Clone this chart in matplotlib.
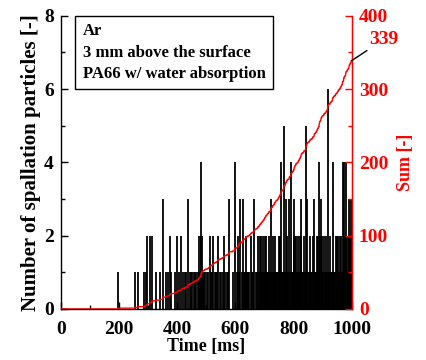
import numpy as np
import matplotlib
matplotlib.use('Agg')
import matplotlib.pyplot as plt

# counts per 1 ms frame, one string per 100 ms, 10 frames per group
blocks = [
    "0000000000 0000000000 0000000000 0000000000 0000000000 0000000000 0000000000 0000000000 0000000000 0000000000",
    "0000000000 0000000000 0000000000 0000000000 0000000000 0000000000 0000000000 0000000000 0000000000 0000000100",
    "0000000000 0000000000 0000000000 0000000000 0000000000 0000100000 0000010000 0000000000 0000000100 0001000200",
    "0000002000 0002000000 0000000010 0000000000 1000000000 0300000000 1000000010 0000200000 1000000000 0010000000",
    "2000010000 0000200010 0000010000 1000000300 0010000100 0010001000 1000010000 1000201000 2040020010 0010001000",
    "0001000100 0200010001 0000200010 0001000100 2000001000 0100001000 2000010000 0100010003 0000000000 1000000400",
    "0000010020 0100300000 0100030001 0001002000 1000100010 0020001000 1000030001 0001000200 1002001002 0010020010",
    "2010200101 1000201000 1030101020 0101020101 1000101020 1020100410 0010105000 1030102010 1000030100 0400101010",
    "2030201020 1000102010 2010203010 1000102000 1050103010 0100020100 1000102000 1300101010 2020102041 2010302010",
    "1000201000 1020100601 1000102000 1010401010 1000201000 2010200010 2010201040 1040201004 2000201010 2300201030",
]
counts = np.array([int(c) for b in blocks for c in b.replace(" ", "")])
time_ms = np.arange(len(counts))
cum = np.cumsum(counts)

labels_box = ["Ar", "3 mm above the surface", "PA66 w/ water absorption"]

plt.rcParams['font.family'] = ['Liberation Serif', 'DejaVu Serif']
plt.rcParams['font.weight'] = 'bold'

fig = plt.figure(figsize=(4.26, 3.6), dpi=100)
ax = fig.add_axes([0.143, 0.142, 0.683, 0.814])
ax2 = ax.twinx()

nz = counts > 0
ax.vlines(time_ms[nz], 0, counts[nz], colors='black', linewidth=1.3)
ax.set_xlim(0, 1000)
ax.set_ylim(0, 8)
ax.set_xticks(np.arange(0, 1001, 200))
ax.set_xticks(np.arange(0, 1001, 100), minor=True)
ax.set_yticks(np.arange(0, 9, 2))
ax.set_yticks(np.arange(0, 9, 1), minor=True)
ax.tick_params(axis='both', which='both', direction='in', labelsize=14, width=1)
ax.tick_params(which='major', length=5)
ax.tick_params(which='minor', length=3)
ax.tick_params(axis='x', which='major', pad=9)
ax.tick_params(axis='y', right=False, pad=5)
ax.set_xlabel('Time [ms]', fontsize=13, fontweight='bold', labelpad=0)
ax.set_ylabel('Number of spallation particles [-]', fontsize=15, fontweight='bold', labelpad=2)
for s in ['left', 'bottom']:
    ax.spines[s].set_linewidth(1)
ax.spines['top'].set_visible(False)

ax2.plot(time_ms, cum, color='red', linewidth=1)
ax2.set_ylim(0, 400)
ax2.set_yticks(np.arange(0, 401, 100))
ax2.set_yticks(np.arange(0, 401, 50), minor=True)
ax2.tick_params(axis='y', which='both', direction='in', colors='red', labelsize=14, width=1, pad=5)
ax2.tick_params(which='major', length=5)
ax2.tick_params(which='minor', length=3)
ax2.spines['right'].set_color('red')
ax2.spines['right'].set_linewidth(1)
ax2.spines['top'].set_visible(False)
ax2.spines['left'].set_visible(False)
ax2.spines['bottom'].set_visible(False)
ax2.set_ylabel('Sum [-]', color='red', fontsize=13, fontweight='bold', labelpad=6)

ax2.annotate(str(cum[-1]), xy=(1000, cum[-1]), xytext=(1060, 368),
             color='red', fontsize=14, fontweight='bold', annotation_clip=False,
             va='center', ha='left',
             arrowprops=dict(arrowstyle='-', color='black', lw=1, shrinkA=0, shrinkB=0))

ax.text(0.075, 0.975, "\n".join(labels_box), transform=ax.transAxes,
        fontsize=12, fontweight='bold', va='top', ha='left', linespacing=1.45,
        bbox=dict(boxstyle='square,pad=0.45', facecolor='white', edgecolor='black', linewidth=1))

fig.savefig('out.png', dpi=100)
